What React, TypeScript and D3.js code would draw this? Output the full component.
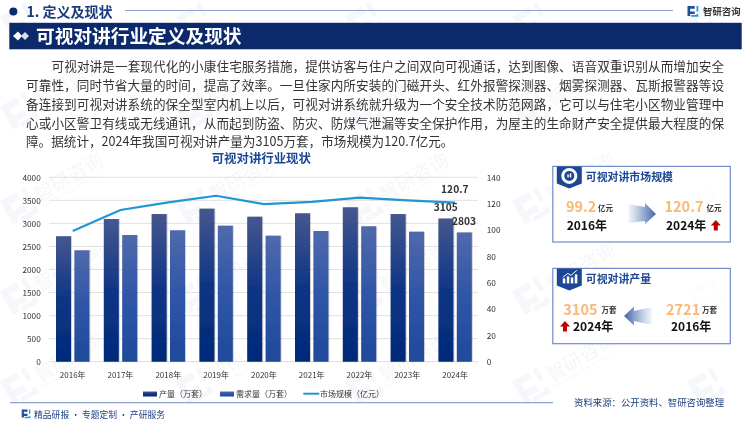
import React from "react";
import * as d3 from "d3";

const years = ["2016年","2017年","2018年","2019年","2020年","2021年","2022年","2023年","2024年"];
const production = [2721,3095,3203,3319,3145,3219,3349,3203,3105];
const demand = [2416,2748,2850,2950,2733,2835,2937,2820,2803];
const market = [99.2,115.2,121,126,119.7,121.3,124.5,122.5,120.7];
const leftTicks = [0,500,1000,1500,2000,2500,3000,3500,4000];
const rightTicks = [0,20,40,60,80,100,120,140];
const paragraph = [
  "可视对讲是一套现代化的小康住宅服务措施，提供访客与住户之间双向可视通话，达到图像、语音双重识别从而增加安全",
  "可靠性，同时节省大量的时间，提高了效率。一旦住家内所安装的门磁开头、红外报警探测器、烟雾探测器、瓦斯报警器等设",
  "备连接到可视对讲系统的保全型室内机上以后，可视对讲系统就升级为一个安全技术防范网路，它可以与住宅小区物业管理中",
  "心或小区警卫有线或无线通讯，从而起到防盗、防灾、防煤气泄漏等安全保护作用，为屋主的生命财产安全提供最大程度的保",
  "障。据统计，2024年我国可视对讲产量为3105万套，市场规模为120.7亿元。",
];
const paragraphX = [51.5,26,26,26,26];
const paragraphW = [672.5,698,698,698,0];
const paragraphY = [71,90,108.5,127.5,146];
const wmX = [18,193,363,530,705];
const wmY = [20,110,205,295,385];

const FONT = "'Noto Sans CJK SC','Noto Sans',sans-serif";
const NAVY = "#0c2a6b";

function Logo({x,y,s=1,color="#1f4e9c",accent="#2b9ad6"}:{x:number;y:number;s?:number;color?:string;accent?:string}) {
  return <g transform={`translate(${x},${y}) scale(${s})`}>
    <path d="M0 0H8V3H3V6H8V9H3V11H0Z" fill={color}/>
    <path d="M10 0H12V6H10Z M4 12H12V9H10V10H4Z" fill={accent}/>
  </g>;
}

function Watermark({x,y,label}:{x:number;y:number;label:boolean}) {
  return <g transform={`translate(${x},${y}) rotate(-30)`}>
    <Logo x={-14} y={-12} s={2.4} color="#2c5c9c" accent="#2c5c9c"/>
    {label && <text x={20} y={8} fontSize={19} fill="#24476f">智研咨询</text>}
    {label && <text x={20} y={15} fontSize={4.4} fill="#24476f">INTELLIGENCE RESEARCH GROUP</text>}
  </g>;
}

function Card({x,y,w,h,title,icon}:{x:number;y:number;w:number;h:number;title:string;icon:"donut"|"bars"}) {
  const tx = x+4, tw = 25;
  return <g>
    <rect x={x} y={y} width={w} height={h} fill="#fff" fillOpacity={0.75} stroke="#6d8cc7" strokeWidth={1.2}/>
    <path d={`M${tx} ${y}H${tx+tw}V${y+17}L${tx+tw/2} ${y+22}L${tx} ${y+17}Z`} fill="#1d4695"/>
    {icon==="donut" ? <g>
      <circle cx={tx+tw/2} cy={y+9.5} r={6.5} fill="none" stroke="#fff" strokeWidth={3}/>
      <rect x={tx+tw/2-2} y={y+8} width={1.5} height={3} fill="#fff"/><rect x={tx+tw/2+0.5} y={y+7} width={1.5} height={4} fill="#fff"/>
    </g> : <g fill="#fff">
      <rect x={tx+6} y={y+10} width={2.5} height={5}/><rect x={tx+10} y={y+8} width={2.5} height={7}/><rect x={tx+14} y={y+9} width={2.5} height={6}/><rect x={tx+18} y={y+6} width={2.5} height={9}/>
      <path d={`M${tx+6} ${y+9}L${tx+11} ${y+5}L${tx+14} ${y+7}L${tx+20} ${y+2}`} stroke="#fff" strokeWidth={1} fill="none"/>
    </g>}
    <text x={x+33} y={y+14.5} fontSize={10.9} fontWeight={700} fill="#1d4695">{title}</text>
  </g>;
}

function UpArrow({x,y}:{x:number;y:number}) {
  return <path transform={`translate(${x},${y})`} d="M5 0L10 5.5H7V10.5H3V5.5H0Z" fill="#c00000"/>;
}

export default function App() {
  const W = 750, H = 421;
  const x0 = d3.scaleBand().domain(years).range([48.8,479]).padding(0);
  const yL = d3.scaleLinear().domain([0,4000]).range([361.7,177.3]);
  const yR = d3.scaleLinear().domain([0,140]).range([361.7,177.3]);
  const barW = 15, gap = 3.4;
  const line = d3.line<number>().x((_,i)=>x0(years[i])!+x0.bandwidth()/2).y(d=>yR(d));
  const cx = (i:number)=>x0(years[i])!+x0.bandwidth()/2;
  return <svg width={W} height={H} viewBox={`0 0 ${W} ${H}`} style={{position:"absolute",left:0,top:0,fontFamily:FONT}}>
    <defs>
      <linearGradient id="gp" x1="0" y1="0" x2="0" y2="1">
        <stop offset="0" stopColor="#45578f"/><stop offset="0.5" stopColor="#0f3585"/><stop offset="1" stopColor="#002a78"/>
      </linearGradient>
      <linearGradient id="gd" x1="0" y1="0" x2="0" y2="1">
        <stop offset="0" stopColor="#5069ad"/><stop offset="0.5" stopColor="#2f55a6"/><stop offset="1" stopColor="#1f4a9c"/>
      </linearGradient>
      <linearGradient id="ar" x1="0" y1="0" x2="1" y2="0">
        <stop offset="0" stopColor="#5c7fbc" stopOpacity={0.05}/><stop offset="1" stopColor="#3d63a8"/>
      </linearGradient>
      <linearGradient id="al" x1="1" y1="0" x2="0" y2="0">
        <stop offset="0" stopColor="#5c7fbc" stopOpacity={0.05}/><stop offset="1" stopColor="#3d63a8"/>
      </linearGradient>
      <filter id="bs" x="-20%" y="-5%" width="140%" height="110%">
        <feDropShadow dx="0.6" dy="0" stdDeviation="0.7" floodColor="#000" floodOpacity="0.3"/>
      </filter>
    </defs>
    <rect width={W} height={H} fill="#fff"/>
    <g opacity={0.05}>
      {wmY.map((b,j)=>wmX.map((a,i)=><Watermark key={`${a}-${b}`} x={a} y={b} label={j>0 && i<4}/>))}
    </g>

    <circle cx={13.3} cy={11.5} r={4} fill={NAVY}/>
    <text x={26.5} y={16.7} fontSize={14} fontWeight={700} fill="#1b3b7d">1. 定义及现状</text>
    <line x1={125} x2={673} y1={10.5} y2={10.5} stroke="#8fa3cb" strokeWidth={1.2}/>
    <Logo x={687.5} y={6} s={0.9}/>
    <text x={703} y={14.5} fontSize={9.4} fontWeight={700} fill="#333">智研咨询</text>
    <rect x={9.3} y={22.8} width={732.4} height={26.5} fill="#0c2a6b"/>
    <path d="M13 36L18 31.5L22 36L18 40.5Z" fill="#fff"/><path d="M21 36L25 32L29 36L25 40Z" fill="#dde"/>
    <text x={36} y={42.5} fontSize={18.7} fontWeight={700} fill="#fff">可视对讲行业定义及现状</text>

    {paragraph.map((t,i)=><text key={i} x={paragraphX[i]} y={paragraphY[i]} fontSize={12.6} fill="#333"
      {...(paragraphW[i]?{textLength:paragraphW[i],lengthAdjust:"spacing"}:{})}>{t}</text>)}

    <text x={261.3} y={163} textAnchor="middle" fontSize={12.4} fontWeight={700} fill="#1d4695">可视对讲行业现状</text>

    {leftTicks.map(t=><g key={t}>
      <line x1={49} x2={478} y1={yL(t)} y2={yL(t)} stroke="#dedede" strokeWidth={t===0?1:0.9}/>
      <text x={40.8} y={yL(t)+3.2} textAnchor="end" fontSize={8.3} fill="#333">{t}</text>
    </g>)}
    {rightTicks.map(t=><text key={t} x={486.7} y={yR(t)+3.2} fontSize={8.3} fill="#333">{t}</text>)}

    {years.map((y,i)=><g key={y}>
      <rect x={cx(i)-gap/2-barW} y={yL(production[i])} width={barW} height={361.7-yL(production[i])} fill="url(#gp)" filter="url(#bs)"/>
      <rect x={cx(i)+gap/2} y={yL(demand[i])} width={barW} height={361.7-yL(demand[i])} fill="url(#gd)" filter="url(#bs)"/>
      <text x={cx(i)} y={378} textAnchor="middle" fontSize={8} fill="#333">{y}</text>
    </g>)}
    <path d={line(market)!} fill="none" stroke="#2296d2" strokeWidth={2.2}/>
    <text x={454.8} y={193} textAnchor="middle" fontSize={10.2} fontWeight={700} fill="#333">120.7</text>
    <text x={445.7} y={211.4} textAnchor="middle" fontSize={10.2} fontWeight={700} fill="#333">{production[8]}</text>
    <text x={464} y={225.4} textAnchor="middle" fontSize={10.2} fontWeight={700} fill="#333">{demand[8]}</text>

    <rect x={143} y={391.5} width={14} height={5} fill="url(#gp)"/>
    <text x={159} y={397} fontSize={8} fill="#333">产量（万套）</text>
    <rect x={220} y={391.5} width={14} height={5} fill="url(#gd)"/>
    <text x={236} y={397} fontSize={8} fill="#333">需求量（万套）</text>
    <line x1={303.3} x2={319.3} y1={393.7} y2={393.7} stroke="#2296d2" strokeWidth={2}/>
    <text x={320} y={397} fontSize={8} fill="#333">市场规模（亿元）</text>

    <line x1={10} x2={553} y1={402.7} y2={402.7} stroke="#8fa3cb" strokeWidth={1.2}/>
    <Logo x={21.7} y={409.5} s={0.72}/>
    <text x={34} y={418} fontSize={8.8} fill="#1d3f80">精品研报 · 专题定制 · 产研服务</text>
    <text x={574} y={405.5} fontSize={9.4} fill="#1d3f80">资料来源：公开资料、智研咨询整理</text>

    <Card x={552.8} y={166.4} w={177.5} h={75.6} title="可视对讲市场规模" icon="donut"/>
    <text x={566} y={212} fontSize={14.5} fontWeight={700} fill="#f9b878">99.2</text>
    <text x={598} y={210.5} fontSize={7.5} fontWeight={700} fill="#333">亿元</text>
    <text x={566.7} y={230} fontSize={12} fontWeight={700} fill="#111">2016年</text>
    <path d="M628 204L645 207V203L656 214L645 224V221L628 223Z" fill="url(#ar)"/>
    <text x={664.5} y={212} fontSize={14.5} fontWeight={700} fill="#f9b878">120.7</text>
    <text x={706.5} y={210.5} fontSize={7.5} fontWeight={700} fill="#333">亿元</text>
    <text x={666} y={230} fontSize={12} fontWeight={700} fill="#111">2024年</text>
    <UpArrow x={710.8} y={220}/>

    <Card x={552.8} y={268.4} w={177.5} h={75.3} title="可视对讲产量" icon="bars"/>
    <text x={563.3} y={315} fontSize={14.5} fontWeight={700} fill="#f9b878">3105</text>
    <text x={601.5} y={313} fontSize={7.5} fontWeight={700} fill="#333">万套</text>
    <UpArrow x={560} y={321}/>
    <text x={573} y={331} fontSize={12} fontWeight={700} fill="#111">2024年</text>
    <path d="M652 307L634 311V306.5L624 316L634 325.5V321L652 325Z" fill="url(#al)"/>
    <text x={666} y={315} fontSize={14.5} fontWeight={700} fill="#f9b878">2721</text>
    <text x={702} y={313} fontSize={7.5} fontWeight={700} fill="#333">万套</text>
    <text x={671} y={331} fontSize={12} fontWeight={700} fill="#111">2016年</text>
  </svg>;
}
